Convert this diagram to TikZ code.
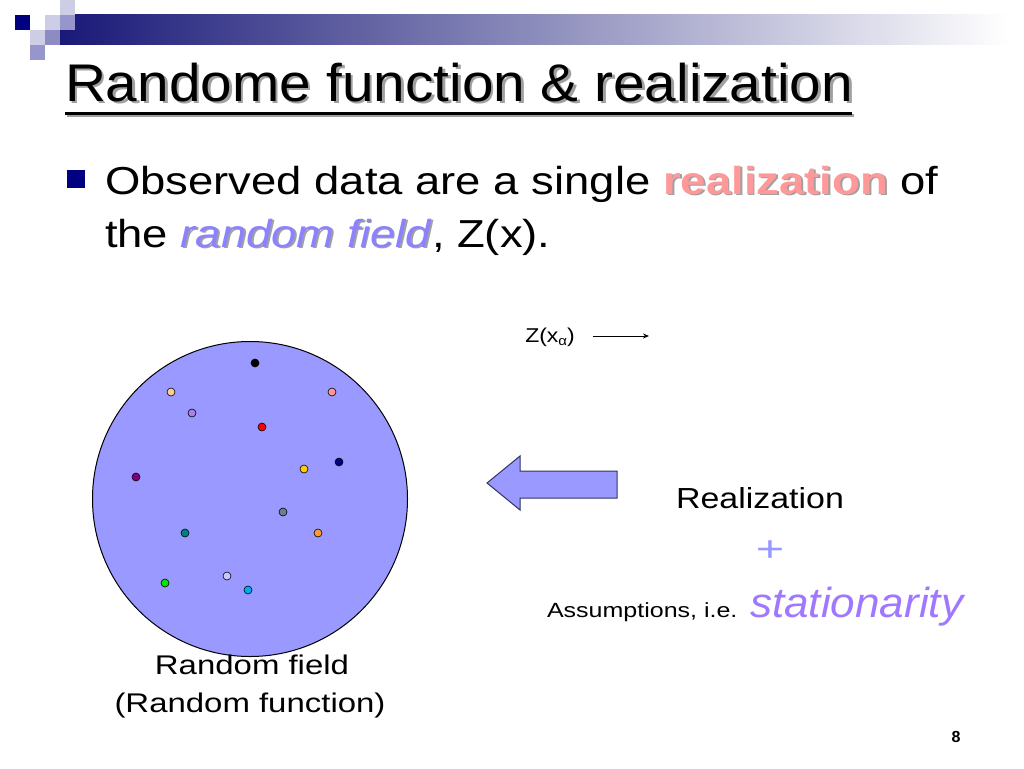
\documentclass[tikz,border=0pt]{standalone}
\usepackage{fontspec}
\setmainfont{Liberation Sans}
\usetikzlibrary{calc,arrows.meta}
\definecolor{navyb}{RGB}{0,0,128}
\definecolor{fieldblue}{RGB}{153,153,255}
\definecolor{pinkr}{RGB}{255,153,153}
\definecolor{lav}{RGB}{153,153,255}
\definecolor{rfield}{RGB}{140,130,255}
\definecolor{stat}{RGB}{160,120,255}
\definecolor{shad}{RGB}{160,160,160}
\definecolor{barleft}{RGB}{25,25,120}
\definecolor{sqA}{RGB}{205,205,230}
\definecolor{sqB}{RGB}{150,150,205}
\definecolor{sqC}{RGB}{140,140,195}
\definecolor{arrowline}{RGB}{50,50,100}
\definecolor{cpeach}{RGB}{255,204,153}
\definecolor{cpink}{RGB}{255,153,153}
\definecolor{cviolet}{RGB}{170,130,230}
\definecolor{cgold}{RGB}{255,204,0}
\definecolor{cplum}{RGB}{128,0,128}
\definecolor{cslate}{RGB}{110,125,150}
\definecolor{cteal}{RGB}{0,128,128}
\definecolor{corange}{RGB}{255,153,51}
\definecolor{cpale}{RGB}{200,200,255}
\definecolor{cgreen}{RGB}{0,230,0}
\newcommand{\shtext}[2]{\rlap{\kern1.6pt\raisebox{-1.6pt}{\color{shad}#2}}\textcolor{#1}{#2}}
\newcommand{\fs}[1]{\fontsize{#1}{#1}\selectfont}
\tikzset{
  txt/.style={inner sep=0pt, outer sep=0pt, text=black},
  dot/.style={circle, draw=black, line width=0.6pt, minimum size=8pt, inner sep=0pt},
}
\begin{document}
\begin{tikzpicture}[x=1pt,y=-1pt]
\useasboundingbox (0,0) rectangle (1024,768);
\fill[white] (0,0) rectangle (1024,768);
% header decoration
\shade[left color=barleft, right color=white] (60,15) rectangle (1010,45);
\fill[navyb] (15,15) rectangle (30,30);
\fill[sqA] (60,0) rectangle (75,15);
\fill[sqA] (45,15) rectangle (60,30);
\fill[sqB] (60,15) rectangle (75,30);
\fill[sqA] (30,30) rectangle (45,45);
\fill[sqC] (45,30) rectangle (60,45);
\fill[sqB] (30,45) rectangle (45,60);
% title
\node[txt, anchor=base west] (title) at (65,101) {\scalebox{1.07}[1]{\fs{53}\rlap{\kern2.5pt\raisebox{-2.5pt}{\color{shad}Randome function \& realization}}Randome function \& realization}};
\fill[shad] (67,114) rectangle (854,117);
\fill[black] (65,112) rectangle (852,115);
% bullet
\fill[navyb] (67,170) rectangle (85,188);
\node[txt, anchor=base west] (line1) at (105,194) {\scalebox{1.165}[1]{\fs{39}Observed data are a single \shtext{pinkr}{\textbf{realization}} of}};
\node[txt, anchor=base west] (line2) at (105,247) {\scalebox{1.165}[1]{\fs{39}the \shtext{rfield}{\textit{random field}}, Z(x).}};
% random field circle
\node[circle, draw=black, line width=1pt, fill=fieldblue, minimum size=315pt, inner sep=0pt] (field) at (250,499) {};
\node[dot, fill=black] (d1) at (255,363) {};
\node[dot, fill=cpeach] (d2) at (171,392) {};
\node[dot, fill=cpink] (d3) at (332,392) {};
\node[dot, fill=cviolet] (d4) at (192,413) {};
\node[dot, fill=red] (d5) at (262,427) {};
\node[dot, fill=cgold] (d6) at (304,469) {};
\node[dot, fill=navyb] (d7) at (339,462) {};
\node[dot, fill=cplum] (d8) at (136,477) {};
\node[dot, fill=cslate] (d9) at (283,512) {};
\node[dot, fill=cteal] (d10) at (185,533) {};
\node[dot, fill=corange] (d11) at (318,533) {};
\node[dot, fill=cpale] (d12) at (227,576) {};
\node[dot, fill=cgreen] (d13) at (165,583) {};
\node[dot, fill=cyan] (d14) at (248,590) {};
% caption
\node[txt, anchor=base] (cap1) at (252,674) {\scalebox{1.22}[1]{\fs{27}Random field}};
\node[txt, anchor=base] (cap2) at (250,712) {\scalebox{1.22}[1]{\fs{27}(Random function)}};
% Z(x_alpha)
\node[txt, anchor=base] (zx) at (550,342) {\scalebox{1.15}[1]{\fs{20}Z(x\raisebox{-3.5pt}{\fs{13}α})}};
\coordinate (zend) at (649,336);
\draw[-{Stealth[length=6pt,width=5pt]}, line width=1pt] (593,336) -- (zend);
% block arrow
\draw[fill=fieldblue, draw=arrowline, line width=1pt, line join=miter]
  (487,483) -- (520,456) -- (520,471) -- (617,471) -- (617,498) -- (520,498) -- (520,510) -- cycle;
% right texts
\node[txt, anchor=base] (real) at (760,508) {\scalebox{1.17}[1]{\fs{29}Realization}};
\node[txt, anchor=base, text=lav] (plus) at (770,561) {\scalebox{1.35}[1]{\fs{36}+}};
\node[txt, anchor=base west] (assum) at (547,617) {\scalebox{1.22}[1]{\fs{20.5}Assumptions, i.e.}};
\node[txt, anchor=base west, text=stat] (stat) at (750,617) {\scalebox{1.05}[1]{\fs{42}\itshape stationarity}};
% page number
\node[txt, anchor=base] (pg) at (956,742) {\fs{16}\bfseries 8};
\end{tikzpicture}
\end{document}
